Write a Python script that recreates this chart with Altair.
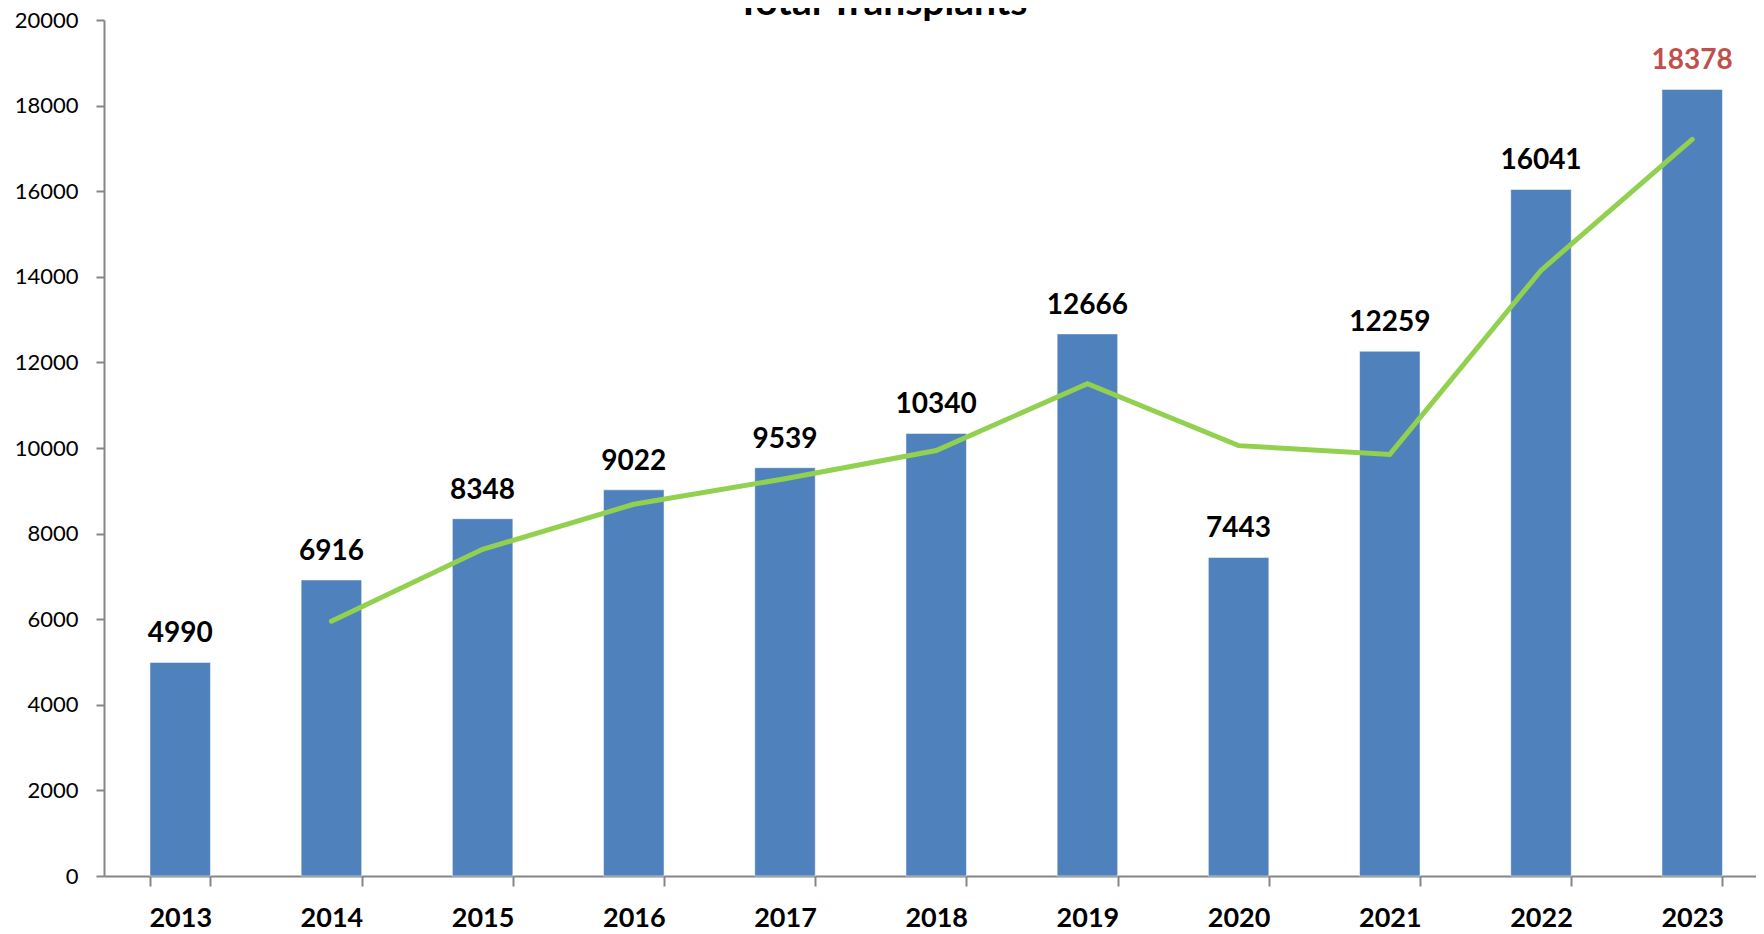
import altair as alt
import pandas as pd

years = ["2013", "2014", "2015", "2016", "2017", "2018", "2019", "2020", "2021", "2022", "2023"]
transplants = [4990, 6916, 8348, 9022, 9539, 10340, 12666, 7443, 12259, 16041, 18378]
trend = [None, 5953, 7632, 8685, 9281, 9940, 11503, 10055, 9851, 14150, 17210]
label_colors = ["#000000"] * 10 + ["#C0504D"]

df = pd.DataFrame({"year": years, "value": transplants, "trend": trend, "lc": label_colors})

FONT = "Lato"
x = alt.X("year:N", sort=years, title=None,
          scale=alt.Scale(paddingInner=0.6, paddingOuter=0.263, align=0.578),
          axis=alt.Axis(labelAngle=0, labelFont=FONT, labelFontSize=27, labelFontWeight="bold",
                        labelColor="#000000", domainColor="#868686", domainWidth=2,
                        tickColor="#868686", tickWidth=2, tickSize=10, tickBand="extent",
                        labelPadding=19))
y = alt.Y("value:Q", title=None,
          scale=alt.Scale(domain=[0, 20000], nice=False),
          axis=alt.Axis(values=list(range(0, 20001, 2000)), format="d", grid=False,
                        labelFont=FONT, labelFontSize=22, labelColor="#000000",
                        domainColor="#868686", domainWidth=2, tickColor="#868686",
                        tickWidth=2, tickSize=8, labelPadding=18))

base = alt.Chart(df)
bars = base.mark_bar(color="#4F81BD", stroke="#FFFFFF", strokeWidth=0.5).encode(x=x, y=y)
labels = base.mark_text(font=FONT, fontSize=28, fontWeight="bold", baseline="alphabetic",
                        dy=-20).encode(x=x, y=y, text="value:Q",
                                       color=alt.Color("lc:N", scale=None))
line = base.transform_filter("datum.trend != null").mark_line(
    color="#92D050", strokeWidth=5, strokeCap="round").encode(
    x=x, y=alt.Y("trend:Q", scale=alt.Scale(domain=[0, 20000], nice=False)))

chart = alt.layer(bars, line, labels).properties(
    width=1652, height=856,
    title=alt.TitleParams("Total Transplants", font=FONT, fontSize=39, fontWeight="bold",
                          color="#000000", anchor="middle", dx=-48, offset=-14),
    autosize=alt.AutoSizeParams(type="none"),
    padding={"left": 96, "top": 12, "right": 0, "bottom": 58},
).configure_view(stroke=None)

chart.save("out.html", embed_options={"renderer": "svg", "actions": False})
